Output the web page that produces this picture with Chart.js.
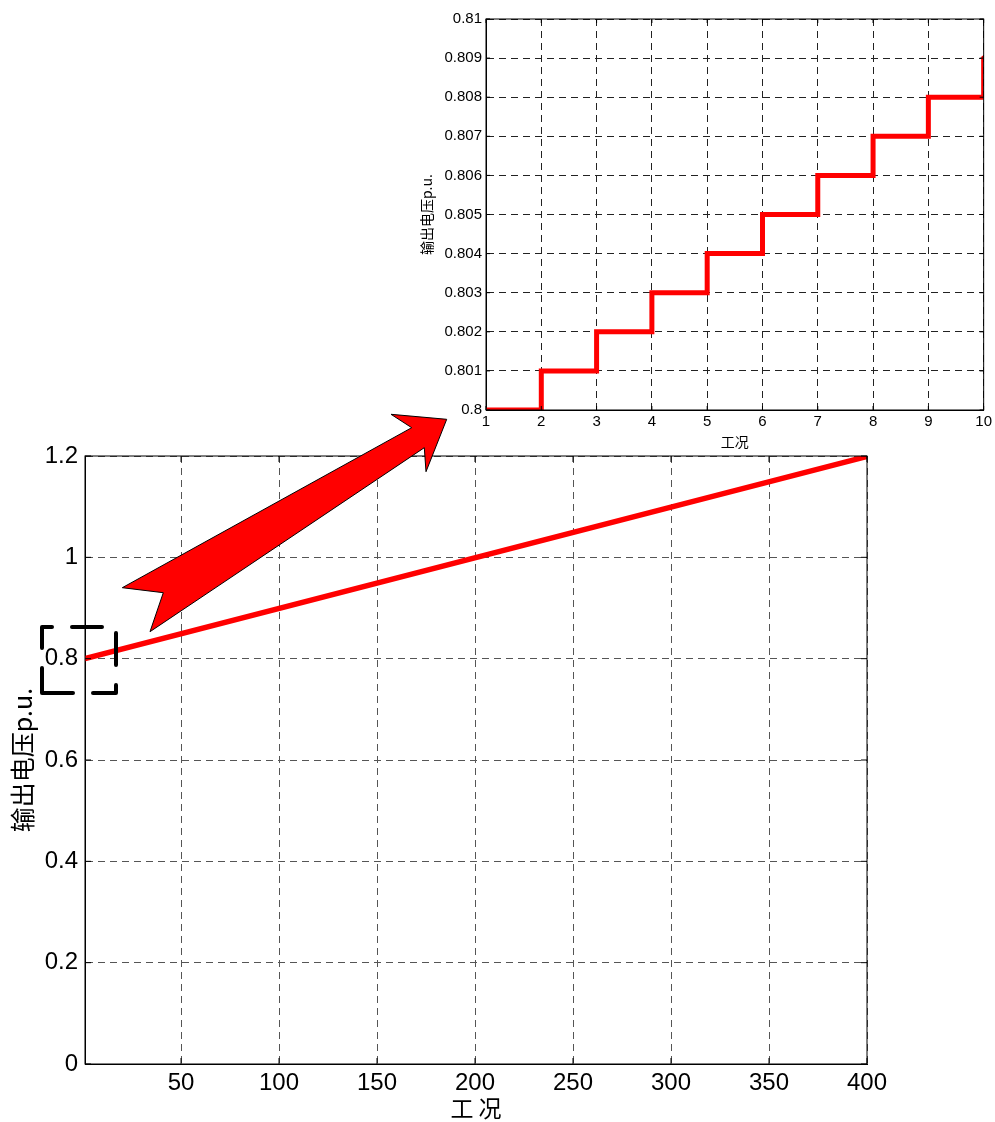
<!DOCTYPE html>
<html lang="zh">
<head>
<meta charset="UTF-8">
<title>输出电压</title>
<script src="https://cdn.jsdelivr.net/npm/chart.js"></script>
<style>
  body { margin: 0; background: #fff; }
  #wrap { position: relative; width: 995px; height: 1122px; }
  canvas, svg { position: absolute; left: 0; top: 0; }
</style>
</head>
<body>
<div id="wrap">
  <canvas id="mainChart" width="995" height="1122"></canvas>
  <canvas id="zoomChart" width="995" height="1122"></canvas>
  <svg width="995" height="1122">
    <!-- big red arrow pointing to the zoomed chart -->
    <polygon points="122.3,587.7 411.7,427.7 391,414.3 446.7,419.3 426,471.7 424.3,447.7 150,631.7 163.3,592.7"
             fill="#ff0000" stroke="#000" stroke-width="1" stroke-linejoin="miter"/>
    <!-- dashed box around the start of the line -->
    <path d="M42,627 L52,627 M72,627 L102,627
             M42,627 L42,648 M42,668 L42,693
             M42,693 L73,693 M93,693 L116,693
             M116,633 L116,665 M116,685 L116,693"
          stroke="#000" stroke-width="4" fill="none" stroke-linecap="round"/>
  </svg>
</div>

<script>
  // main chart data
  const mainX = [1, 400];
  const mainY = [0.8, 1.199];
  const mainXTicks = [50, 100, 150, 200, 250, 300, 350, 400];
  const mainYTicks = [0, 0.2, 0.4, 0.6, 0.8, 1, 1.2];

  // zoomed chart data (first 10 cases)
  const zoomX = [1, 2, 3, 4, 5, 6, 7, 8, 9, 10];
  const zoomY = [0.8, 0.801, 0.802, 0.803, 0.804, 0.805, 0.806, 0.807, 0.808, 0.809];
  const zoomXTicks = [1, 2, 3, 4, 5, 6, 7, 8, 9, 10];
  const zoomYTicks = [0.8, 0.801, 0.802, 0.803, 0.804, 0.805, 0.806, 0.807, 0.808, 0.809, 0.81];

  const latin = "'Liberation Sans', Arial, sans-serif";
  const cjk = "'Noto Sans CJK SC', sans-serif";

  // box around plot area + inward tick marks (matlab style)
  const framePlugin = {
    id: 'frame',
    afterDraw(chart, args, opts) {
      const { ctx, chartArea: a, scales: { x, y } } = chart;
      const t = opts.tick || 5;
      ctx.save();
      ctx.strokeStyle = '#000';
      ctx.lineWidth = 1;
      ctx.strokeRect(a.left, a.top, a.right - a.left, a.bottom - a.top);
      ctx.beginPath();
      x.ticks.forEach(tk => {
        const px = x.getPixelForValue(tk.value);
        ctx.moveTo(px, a.bottom); ctx.lineTo(px, a.bottom - t);
        ctx.moveTo(px, a.top); ctx.lineTo(px, a.top + t);
      });
      y.ticks.forEach(tk => {
        const py = y.getPixelForValue(tk.value);
        ctx.moveTo(a.left, py); ctx.lineTo(a.left + t, py);
        ctx.moveTo(a.right, py); ctx.lineTo(a.right - t, py);
      });
      ctx.stroke();
      ctx.restore();
    }
  };

  const toPoints = (xs, ys) => xs.map((v, i) => ({ x: v, y: ys[i] }));

  // main chart
  new Chart(document.getElementById('mainChart'), {
    type: 'scatter',
    data: {
      datasets: [{
        data: toPoints(mainX, mainY),
        showLine: true,
        borderColor: '#ff0000',
        borderWidth: 5.5,
        borderCapStyle: 'round',
        pointRadius: 0
      }]
    },
    options: {
      responsive: false,
      animation: false,
      layout: { padding: { left: 0, top: 456, right: 128, bottom: 0 } },
      plugins: { legend: { display: false }, tooltip: { enabled: false }, frame: { tick: 6 } },
      scales: {
        x: {
          type: 'linear', min: 1, max: 400,
          afterBuildTicks: s => { s.ticks = mainXTicks.map(v => ({ value: v })); },
          afterFit: s => { s.height = 58; },
          grid: { color: '#555', drawTicks: false },
          border: { color: '#000', width: 1, dash: [7, 5] },
          ticks: { padding: 5, color: '#000', maxRotation: 0, autoSkip: false,
                   font: { family: latin, size: 24 }, callback: v => String(v) },
          title: { display: true, text: '工 况', color: '#000',
                   font: { family: cjk, size: 23 }, padding: { top: 0, bottom: 0 } }
        },
        y: {
          type: 'linear', min: 0, max: 1.2,
          afterBuildTicks: s => { s.ticks = mainYTicks.map(v => ({ value: v })); },
          afterFit: s => { s.width = 85; },
          grid: { color: '#555', drawTicks: false },
          border: { color: '#000', width: 1, dash: [7, 5] },
          ticks: { padding: 7, color: '#000', autoSkip: false,
                   font: { family: latin, size: 24 }, callback: v => String(+v.toFixed(1)) },
          title: { display: true, text: '输出电压p.u.', color: '#000',
                   font: { family: cjk, size: 25 }, padding: { top: 7, bottom: 0 } }
        }
      }
    },
    plugins: [framePlugin]
  });

  // zoomed chart
  new Chart(document.getElementById('zoomChart'), {
    type: 'scatter',
    data: {
      datasets: [{
        data: toPoints(zoomX, zoomY),
        showLine: true,
        stepped: true,
        borderColor: '#ff0000',
        borderWidth: 5,
        borderCapStyle: 'round',
        pointRadius: 0
      }]
    },
    options: {
      responsive: false,
      animation: false,
      layout: { padding: { left: 418, top: 19, right: 8, bottom: 672 } },
      plugins: { legend: { display: false }, tooltip: { enabled: false }, frame: { tick: 4 } },
      scales: {
        x: {
          type: 'linear', min: 1, max: 10,
          afterBuildTicks: s => { s.ticks = zoomXTicks.map(v => ({ value: v })); },
          afterFit: s => { s.height = 40; },
          grid: { color: '#222', drawTicks: false },
          border: { color: '#000', width: 1, dash: [7, 5] },
          ticks: { padding: 3, color: '#000', maxRotation: 0, autoSkip: false,
                   font: { family: latin, size: 15 }, callback: v => String(v) },
          title: { display: true, text: '工况', color: '#000',
                   font: { family: cjk, size: 14 }, padding: { top: 0, bottom: 0 } }
        },
        y: {
          type: 'linear', min: 0.8, max: 0.81,
          afterBuildTicks: s => { s.ticks = zoomYTicks.map(v => ({ value: v })); },
          afterFit: s => { s.width = 68; },
          grid: { color: '#222', drawTicks: false },
          border: { color: '#000', width: 1, dash: [7, 5] },
          ticks: { padding: 4, color: '#000', autoSkip: false,
                   font: { family: latin, size: 15 }, callback: v => String(+v.toFixed(3)) },
          title: { display: true, text: '输出电压p.u.', color: '#000',
                   font: { family: cjk, size: 14 }, padding: { top: 0, bottom: 0 } }
        }
      }
    },
    plugins: [framePlugin]
  });
</script>
</body>
</html>
